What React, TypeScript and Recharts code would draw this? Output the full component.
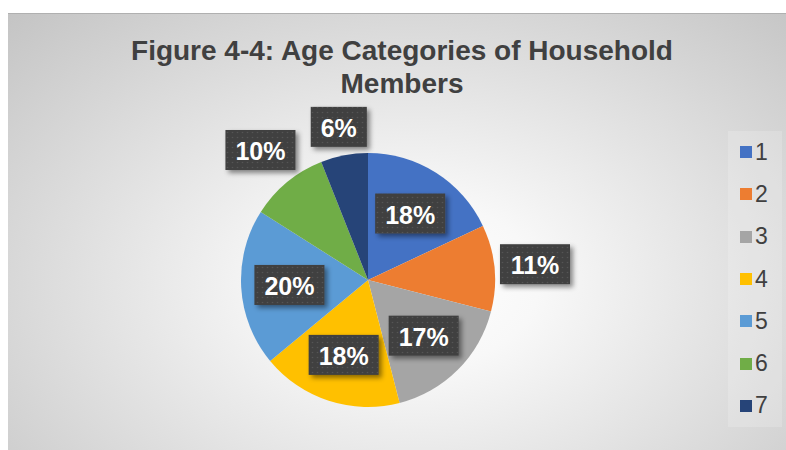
import { PieChart, Pie, Cell, Legend } from 'recharts';

const categories = ['1', '2', '3', '4', '5', '6', '7'];
const shares = [18, 11, 17, 18, 20, 10, 6];
const sliceColors = ['#4472C4', '#ED7D31', '#A5A5A5', '#FFC000', '#5B9BD5', '#70AD47', '#264478'];
const titleLines = ['Figure 4-4: Age Categories of Household', 'Members'];

const chartData = categories.map((name, i) => ({ name, value: shares[i] }));

const FONT = '"Liberation Sans", Arial, sans-serif';
const RAD = Math.PI / 180;
const LABEL_SIZE = 25;
const BOX_H = 40;

// rough Arial bold advance widths, enough for "18%" style labels
function labelWidth(s: string) {
  let em = 0;
  for (const ch of s) em += ch === '%' ? 0.889 : 0.556;
  return em * LABEL_SIZE + 20;
}

function BoxLabel(props: any) {
  const { cx, cy, midAngle, outerRadius, percent } = props;
  const text = `${Math.round(percent * 100)}%`;
  const w = labelWidth(text);
  const ux = Math.cos(-midAngle * RAD);
  const uy = Math.sin(-midAngle * RAD);
  // small slices get their box just outside the rim, like Excel's best fit
  const d =
    percent < 0.12
      ? outerRadius + 4 + (Math.abs(ux) * w) / 2 + (Math.abs(uy) * BOX_H) / 2
      : outerRadius * 0.62;
  const x = cx + d * ux;
  const y = cy + d * uy;
  return (
    <g>
      <rect
        x={x - w / 2}
        y={y - BOX_H / 2}
        width={w}
        height={BOX_H}
        fill="url(#labelDots)"
        filter="url(#labelShadow)"
      />
      <text
        x={x}
        y={y + 10}
        textAnchor="middle"
        fill="#ffffff"
        fontFamily={FONT}
        fontWeight="bold"
        fontSize={LABEL_SIZE}
      >
        {text}
      </text>
    </g>
  );
}

function LegendBox() {
  return (
    <div style={{ width: 54, height: 296, background: 'rgba(255,255,255,0.18)' }}>
      {categories.map((c, i) => (
        <div
          key={c}
          style={{ height: 42.3, display: 'flex', alignItems: 'center', paddingLeft: 12 }}
        >
          <span style={{ width: 12, height: 12, background: sliceColors[i], display: 'inline-block' }} />
          <span style={{ marginLeft: 3, fontFamily: FONT, fontSize: 23, color: '#404040', lineHeight: 1 }}>
            {c}
          </span>
        </div>
      ))}
    </div>
  );
}

export default function App() {
  return (
    <div style={{ position: 'absolute', left: 0, top: 0, width: 786, height: 450 }}>
      <div
        style={{
          position: 'absolute',
          left: 8,
          top: 13,
          width: 778,
          height: 437,
          borderTop: '1px solid #b0b0b0',
          boxSizing: 'border-box',
          background:
            'radial-gradient(ellipse at 52% 62%, #ffffff 0%, #f8f8f8 22%, #e2e2e2 55%, #c4c4c4 100%)',
        }}
      />
      <svg width={786} height={450} style={{ position: 'absolute', left: 0, top: 0 }}>
        <defs>
          <pattern id="labelDots" width={5} height={5} patternUnits="userSpaceOnUse">
            <rect width={5} height={5} fill="#3f3f3f" />
            <circle cx={2.5} cy={2.5} r={0.8} fill="#555555" />
          </pattern>
          <filter id="labelShadow" x="-20%" y="-30%" width="150%" height="170%">
            <feDropShadow dx={3} dy={3} stdDeviation={2.5} floodColor="#000" floodOpacity={0.45} />
          </filter>
        </defs>
        {titleLines.map((line, i) => (
          <text
            key={line}
            x={402}
            y={60 + i * 33}
            textAnchor="middle"
            fontFamily={FONT}
            fontWeight="bold"
            fontSize={28}
            fill="#404040"
          >
            {line}
          </text>
        ))}
      </svg>
      <div style={{ position: 'absolute', left: 0, top: 0 }}>
        <PieChart width={786} height={450} margin={{ top: 0, right: 0, bottom: 0, left: 0 }}>
          <Pie
            data={chartData}
            dataKey="value"
            nameKey="name"
            cx={368}
            cy={280}
            outerRadius={127}
            startAngle={90}
            endAngle={-270}
            stroke="none"
            labelLine={false}
            label={BoxLabel}
            isAnimationActive={false}
          >
            {chartData.map((d, i) => (
              <Cell key={d.name} fill={sliceColors[i]} />
            ))}
          </Pie>
          <Legend
            content={() => <LegendBox />}
            wrapperStyle={{ left: 728, top: 131, width: 54, height: 296 }}
          />
        </PieChart>
      </div>
    </div>
  );
}
